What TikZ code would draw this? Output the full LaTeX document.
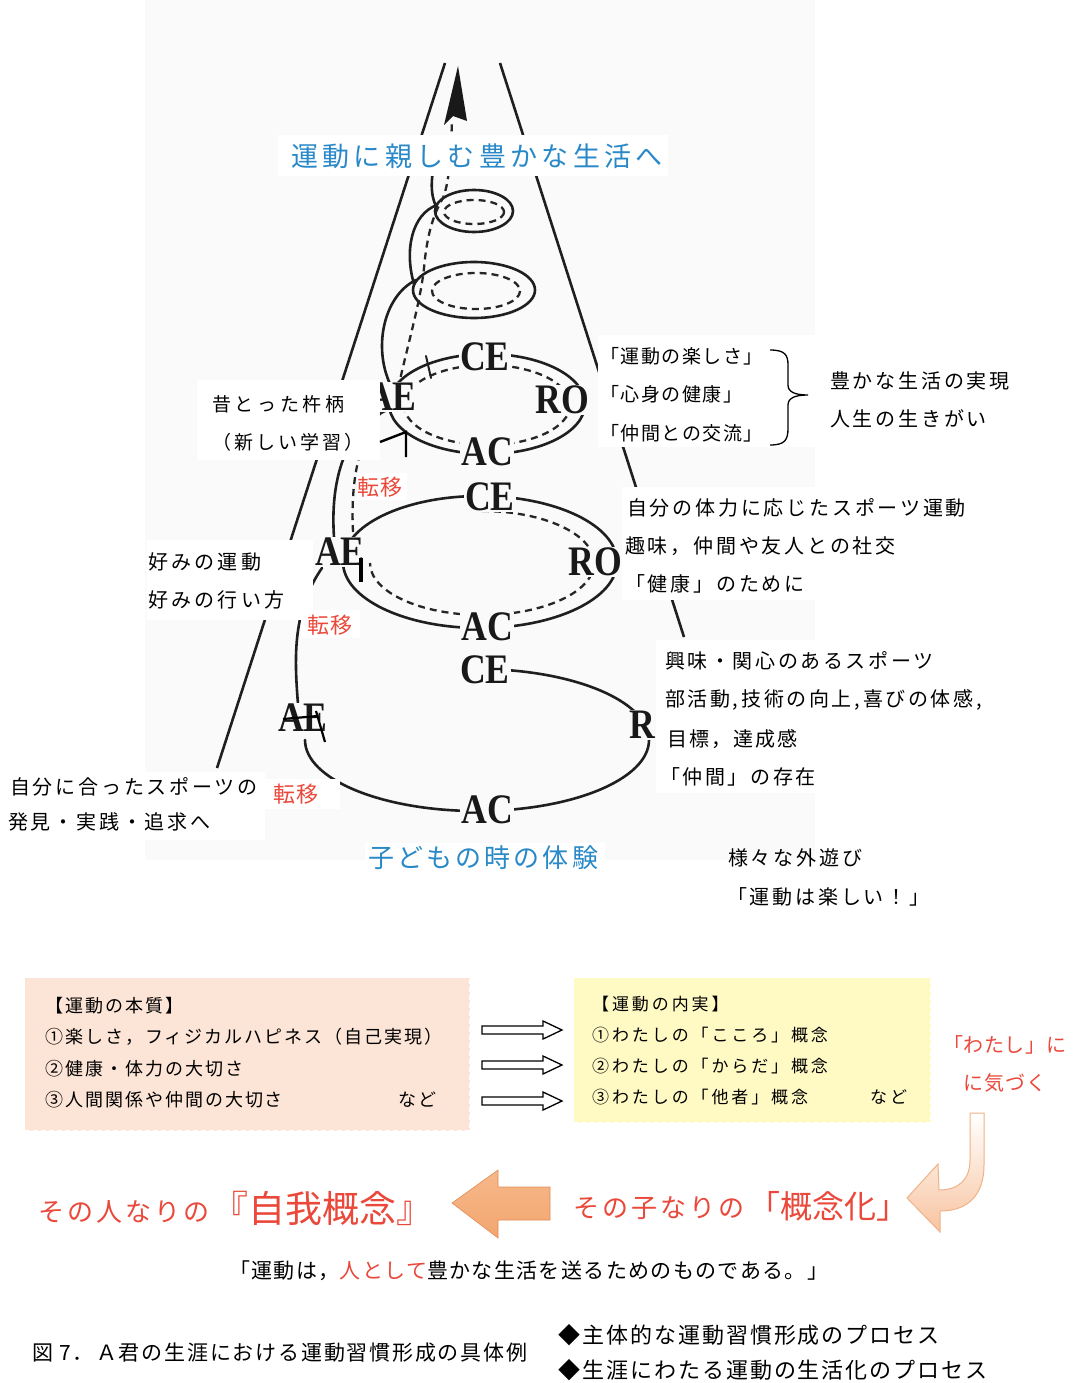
\documentclass[tikz,border=0pt]{standalone}
\usepackage{fontspec}
\usepackage{graphicx}
\setmainfont{Liberation Serif}
\newfontfamily\jpfont{Noto Sans CJK JP}
\newcommand\jtx[2]{\jpfont\fontsize{#1}{#1}\selectfont\addfontfeatures{LetterSpace=#2}}
\newcommand\lbl[1]{\scalebox{0.85}[1]{#1}}
\definecolor{scanbg}{RGB}{250,250,250}
\definecolor{tblue}{RGB}{41,137,200}
\definecolor{tred}{RGB}{234,72,58}
\definecolor{pinkbox}{RGB}{252,228,214}
\definecolor{yelbox}{RGB}{255,249,196}
\definecolor{orangeA}{RGB}{243,166,110}
\definecolor{orangeB}{RGB}{226,140,84}
\definecolor{peach}{RGB}{248,196,160}
\definecolor{peachline}{RGB}{240,178,136}
\tikzset{
  ink/.style={line width=2.6pt, line cap=round, color=black!88},
  inkdash/.style={line width=2.3pt, color=black!85, dash pattern=on 7pt off 5pt},
  conel/.style={line width=2.6pt, color=black!88},
  scanlbl/.style={fill=scanbg, inner sep=1pt, font=\fontsize{42}{42}\selectfont\bfseries, text=black!90},
  txt/.style={anchor=west, inner sep=0pt},
  blockarrow/.style={draw=black, line width=1.3pt, fill=white, line join=miter},
}
\begin{document}
\begin{tikzpicture}[x=1pt,y=-1pt]
\useasboundingbox (0,0) rectangle (1074,1383);
\fill[white] (0,0) rectangle (1074,1383);
\fill[scanbg] (145,0) rectangle (815,860);
% cone
\draw[conel] (445,63) -- (217,768);
\draw[conel] (500,63) -- (684,637);
% loop 5
\draw[ink] (474,211) ellipse [x radius=39, y radius=21];
\draw[inkdash] (474,212) ellipse [x radius=30, y radius=12];
% loop 4
\draw[ink] (474,290) ellipse [x radius=61, y radius=28];
\draw[inkdash] (476,291) ellipse [x radius=44, y radius=18];
% loop 3
\draw[ink] (487,404) ellipse [x radius=98, y radius=50];
\draw[inkdash] (487,405) ellipse [x radius=83, y radius=40];
% loop 2
\draw[ink] (480,562) ellipse [x radius=137, y radius=66];
\draw[inkdash] (482,511) arc[start angle=-90,end angle=180,x radius=112,y radius=52];
% loop 1
\draw[ink] (477,669) arc[start angle=-90,end angle=180,x radius=172,y radius=71];
% connectors of the helix
\draw[ink] (298,704) .. controls (294,655) and (293,610) .. (322,568);
\draw[ink] (334,537) .. controls (330,480) and (345,425) .. (392,408);
\draw[ink] (392,388) .. controls (372,350) and (383,296) .. (416,280);
\draw[ink] (414,284) .. controls (404,250) and (412,214) .. (437,205);
\draw[ink] (436,206) .. controls (428,190) and (432,165) .. (442,140);
\draw[inkdash] (353,532) .. controls (350,470) and (362,425) .. (396,398)
  .. controls (406,350) and (420,305) .. (424,268)
  .. controls (427,235) and (433,215) .. (443,198)
  .. controls (450,180) and (451,150) .. (452,120);
\fill[black!90] (458,66) -- (444,125) -- (453,116) -- (467,121) -- cycle;
\draw[ink, line width=2pt] (426,356) -- (431,378);
% scanned labels
\node[scanlbl] (ce3) at (485,357) {\lbl{CE}};
\node[scanlbl] (ro3) at (562,400) {\lbl{RO}};
\node[scanlbl] (ac3) at (487,452) {\lbl{AC}};
\node[scanlbl] (ae3) at (392,397) {\lbl{AE}};
\node[scanlbl] (ce2) at (490,497) {\lbl{CE}};
\node[scanlbl] (ro2) at (595,562) {\lbl{RO}};
\node[scanlbl] (ac2) at (487,627) {\lbl{AC}};
\node[scanlbl] (ae2) at (340,552) {\lbl{AE}};
\node[scanlbl] (ce1) at (485,670) {\lbl{CE}};
\node[scanlbl] (ro1) at (642,725) {\lbl{R}};
\node[scanlbl] (ac1) at (487,810) {\lbl{AC}};
\node[scanlbl] (ae1) at (303,718) {\lbl{AE}};
\draw[line width=2.2pt] (283,719) -- (318,716);
\draw[line width=2.2pt] (316,711) -- (325,742);
\draw[line width=3.5pt] (361,558) -- (361,582);
% white boxes over the scan
\fill[white] (278,135) rectangle (668,176);
\fill[white] (197,380) rectangle (380,460);
\fill[white] (598,335) rectangle (815,447);
\fill[white] (622,487) rectangle (815,600);
\fill[white] (147,540) rectangle (313,620);
\fill[white] (357,473) rectangle (407,500);
\fill[white] (301,610) rectangle (360,638);
\fill[white] (656,640) rectangle (1010,793);
\fill[white] (0,772) rectangle (265,840);
\fill[white] (262,779) rectangle (340,809);
\fill[white] (365,843) rectangle (605,876);
\draw[line width=2.4pt] (380,442) -- (406,432) -- (406,457);
% texts in the upper part
\node[txt, text=tblue] (title) at (291,156) {\jtx{27}{16}運動に親しむ豊かな生活へ};
\node[txt, text=tblue] (kodomo) at (368,858) {\jtx{26}{12}子どもの時の体験};
\node[txt] (mukashi) at (212,404) {\jtx{19}{20}昔とった杵柄};
\node[txt] (atarashii) at (212,442) {\jtx{19}{16}（新しい学習）};
\node[txt] (tanoshisa) at (600,356) {\jtx{19}{8}「運動の楽しさ」};
\node[txt] (shinshin) at (600,394) {\jtx{19}{8}「心身の健康」};
\node[txt] (nakamakoryu) at (600,433) {\jtx{19}{8}「仲間との交流」};
\draw[line width=1.3pt] (770,350) .. controls (785,350) and (788,355) .. (788,365) -- (788,385)
  .. controls (788,392) and (795,395) .. (808,395) .. controls (795,395) and (788,398) .. (788,405)
  -- (788,428) .. controls (788,440) and (785,445) .. (770,445);
\node[txt] (yutaka) at (830,381) {\jtx{20}{14}豊かな生活の実現};
\node[txt] (jinsei) at (830,419) {\jtx{20}{14}人生の生きがい};
\node[txt] (tairyoku) at (627,508) {\jtx{20}{14}自分の体力に応じたスポーツ運動};
\node[txt] (shumi) at (625,546) {\jtx{20}{14}趣味，仲間や友人との社交};
\node[txt] (kenko) at (625,584) {\jtx{20}{14}「健康」のために};
\node[txt] (konomi1) at (148,562) {\jtx{20}{16}好みの運動};
\node[txt] (konomi2) at (148,600) {\jtx{20}{16}好みの行い方};
\node[txt, text=tred] (teni1) at (357,487) {\jtx{22}{4}転移};
\node[txt, text=tred] (teni2) at (307,625) {\jtx{22}{4}転移};
\node[txt, text=tred] (teni3) at (273,794) {\jtx{22}{4}転移};
\node[txt] (kyomi) at (665,661) {\jtx{20}{13}興味・関心のあるスポーツ};
\node[txt] (bukatsu) at (665,700) {\jtx{20}{13}部活動,\hspace{3pt}技術の向上,\hspace{3pt}喜びの体感,};
\node[txt] (mokuhyo) at (667,739) {\jtx{20}{10}目標，達成感};
\node[txt] (nakama) at (660,777) {\jtx{20}{13}「仲間」の存在};
\node[txt] (jibun) at (10,787) {\jtx{20}{14}自分に合ったスポーツの};
\node[txt] (hakken) at (8,822) {\jtx{20}{14}発見・実践・追求へ};
\node[txt] (samazama) at (728,858) {\jtx{20}{14}様々な外遊び};
\node[txt] (tanoshii) at (727,897) {\jtx{20}{14}「運動は楽しい！」};
% lower part
\node[draw=white, dash pattern=on 5pt off 3pt, line width=1pt, fill=pinkbox, minimum width=445pt, minimum height=153pt, anchor=north west, inner sep=0pt] (essence) at (24,977) {};
\node[draw=white, dash pattern=on 5pt off 3pt, line width=1pt, fill=yelbox, minimum width=357pt, minimum height=145pt, anchor=north west, inner sep=0pt] (content) at (573,977) {};
\node[txt] (e0) at (45,1006) {\jtx{18}{11}【運動の本質】};
\node[txt] (e1) at (45,1037) {\jtx{18}{11}①楽しさ，フィジカルハピネス（自己実現）};
\node[txt] (e2) at (45,1069) {\jtx{18}{11}②健康・体力の大切さ};
\node[txt] (e3) at (45,1100) {\jtx{18}{11}③人間関係や仲間の大切さ};
\node[txt] (e4) at (398,1100) {\jtx{18}{11}など};
\node[txt] (c0) at (592,1004) {\jtx{17}{17}【運動の内実】};
\node[txt] (c1) at (592,1035) {\jtx{17}{17}①わたしの「こころ」概念};
\node[txt] (c2) at (592,1066) {\jtx{17}{17}②わたしの「からだ」概念};
\node[txt] (c3) at (592,1097) {\jtx{17}{17}③わたしの「他者」概念};
\node[txt] (c4) at (870,1097) {\jtx{17}{17}など};
\draw[blockarrow] (482,1026) -- (543,1026) -- (543,1021) -- (562,1030) -- (543,1039) -- (543,1034) -- (482,1034) -- cycle;
\draw[blockarrow] (482,1061) -- (543,1061) -- (543,1056) -- (562,1065) -- (543,1074) -- (543,1069) -- (482,1069) -- cycle;
\draw[blockarrow] (482,1097) -- (543,1097) -- (543,1092) -- (562,1101) -- (543,1110) -- (543,1105) -- (482,1105) -- cycle;
\node[txt, text=tred] (watashi1) at (943,1045) {\jtx{20}{3}「わたし」に};
\node[txt, text=tred] (watashi2) at (963,1083) {\jtx{20}{6}に気づく};
\shadedraw[top color=white, bottom color=peach, draw=peachline, line width=1pt]
 (970,1113) -- (984,1113) -- (984,1165) .. controls (984,1195) and (968,1211) .. (940,1211)
 -- (940,1232) -- (907,1198) -- (938,1164) -- (939,1190) .. controls (958,1190) and (970,1180) .. (970,1160) -- cycle;
\shadedraw[top color=orangeA!80!white, bottom color=orangeA, draw=orangeB, line width=0.6pt]
 (452,1203) -- (498,1170) -- (498,1187) -- (550,1187) -- (550,1220) -- (498,1220) -- (498,1238) -- cycle;
\node[txt, text=tred] (hito1) at (38,1212) {\jtx{26}{12}その人なりの};
\node[txt, text=tred] (hito2) at (211,1208) {\jtx{37}{0}『自我概念』};
\node[txt, text=tred] (ko1) at (573,1208) {\jtx{26}{12}その子なりの};
\node[txt, text=tred] (ko2) at (748,1206) {\jtx{32}{0}「概念化」};
\node[txt] (quote) at (229,1271) {\jtx{21}{6.5}「運動は，\textcolor{tred}{人として}豊かな生活を送るためのものである。」};
\node[txt] (cap1) at (32,1353) {\jtx{21}{6}図 7．};
\node[txt] (cap2) at (96,1353) {\jtx{21}{8.5}Ａ君の生涯における運動習慣形成の具体例};
\node[txt] (proc1) at (558,1335) {\jtx{22}{9}◆主体的な運動習慣形成のプロセス};
\node[txt] (proc2) at (558,1370) {\jtx{22}{9}◆生涯にわたる運動の生活化のプロセス};
\end{tikzpicture}
\end{document}
